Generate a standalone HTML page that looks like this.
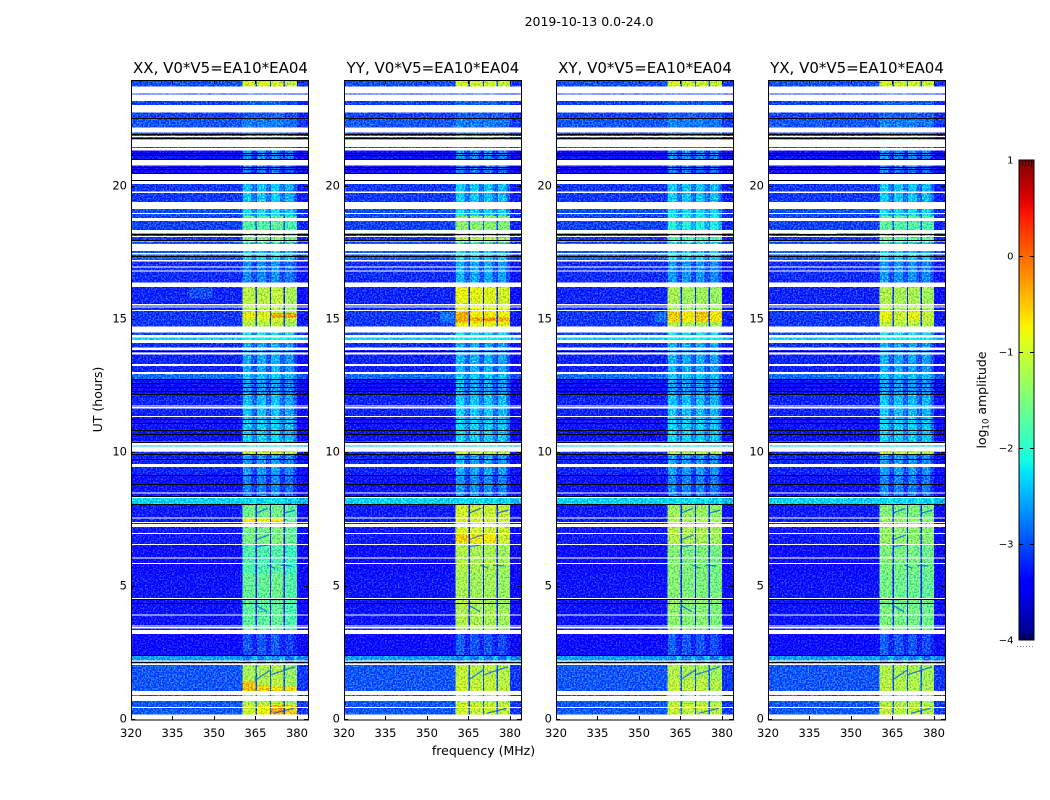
<!DOCTYPE html>
<html lang="en">
<head>
<meta charset="utf-8">
<title>2019-10-13 0.0-24.0</title>
<style>
html,body{margin:0;padding:0;background:#fff;}
body{width:1050px;height:800px;overflow:hidden;}
svg{display:block;font-family:"DejaVu Sans","Liberation Sans",sans-serif;fill:#000;}
</style>
</head>
<body>
<svg id="chart" xmlns="http://www.w3.org/2000/svg" width="1050" height="800" viewBox="0 0 1050 800">
  <defs>
    <filter id="speckle" filterUnits="userSpaceOnUse" x="0" y="0" width="1050" height="800" color-interpolation-filters="sRGB">
      <feTurbulence type="fractalNoise" baseFrequency="0.62" numOctaves="2" seed="7" result="n"/>
      <feColorMatrix in="n" type="matrix" values="0 2.6 0 0 -0.8  0 2.6 0 0 -0.8  0 0 0 0 0.5  0 0 0 0 1" result="m"/>
      <feComposite in="SourceGraphic" in2="m" operator="arithmetic" k1="0" k2="1" k3="0.5" k4="-0.25" result="c"/>
      <feComposite in="c" in2="SourceAlpha" operator="in"/>
    </filter>
    <linearGradient id="jet-gradient" x1="0" y1="1" x2="0" y2="0"></linearGradient>
  </defs>
  <text x="589" y="26" text-anchor="middle" font-size="12.5">2019-10-13 0.0-24.0</text>
  <text transform="translate(102 399.5) rotate(-90)" text-anchor="middle" font-size="12.5">UT (hours)</text>
  <text x="483.5" y="755" text-anchor="middle" font-size="12.5">frequency (MHz)</text>
  <g id="panels"></g>
  <g id="colorbar"></g>
  <text transform="translate(986 400) rotate(-90)" text-anchor="middle" font-size="12.5">log<tspan font-size="8.5" dy="2.5">10</tspan><tspan dy="-2.5"> amplitude</tspan></text>
</svg>
<script>
// Panel labels and axis ticks
const panelTitles = ["XX, V0*V5=EA10*EA04", "YY, V0*V5=EA10*EA04", "XY, V0*V5=EA10*EA04", "YX, V0*V5=EA10*EA04"];
const freqTicks = [320, 335, 350, 365, 380];
const utTicks = [0, 5, 10, 15, 20];
const colorbarTicks = [1, 0, -1, -2, -3, -4];

// Frequency ranges in MHz: the four bright sub-bands
const subbandStarts = [360.4, 365.5, 370.6, 375.6];
const subbandEnds = [365.0, 370.2, 375.1, 380.0];

// UT edges of the time bands (hours, descending)
const utBandEdges = [24, 23.75, 22.6, 21.4, 20.75, 20.1, 19.2, 18.9, 18.4, 17.9, 17.25, 16.4, 15.6, 15.34, 14.9, 14.75, 14.35, 14.25, 13.7, 13.0, 12.75, 12.2, 11.4, 10.45, 10.05, 9.95, 9.2, 8.37, 8.1, 7.6, 6.6, 5.5, 4.6, 3.23, 2.42, 2.07, 1.5, 1.09, 0.6, 0.2, 0];

// log10 amplitude per time band: outside the sub-bands
const backgroundLevels = [-3.0, -3.05, -2.95, -3.35, -3.4, -3.1, -3.0, -3.05, -3.1, -2.9, -3.15, -3.2, -3.2, -3.1, -3.1, -3.0, -2.35, -3.15, -3.2, -2.85, -3.35, -3.2, -3.3, -2.4, -3.15, -3.2, -3.3, -2.35, -3.25, -3.25, -3.35, -3.3, -3.3, -3.35, -2.6, -2.95, -2.95, -2.95, -2.95, -3.0];

// log10 amplitude per time band: inside the sub-bands, per polarisation
const xxLevels = [-1.0, -2.7, -2.5, -2.45, -2.55, -2.15, -2.0, -1.75, -1.45, -2.1, -2.45, -1.15, -1.2, -1.05, -1.2, -2.0, -1.9, -2.3, -2.3, -2.15, -2.35, -2.2, -2.1, -2.1, -1.05, -2.35, -2.5, -2.1, -1.6, -1.55, -1.8, -1.65, -1.7, -2.7, -2.55, -1.25, -1.2, -1.25, -1.05, -1.2];
const yyLevels = [-1.05, -2.7, -2.5, -2.45, -2.55, -2.15, -2.0, -1.45, -1.25, -2.1, -2.3, -0.95, -0.95, -0.75, -0.85, -2.0, -1.9, -2.3, -2.25, -2.1, -2.3, -2.15, -2.1, -2.1, -1.1, -2.3, -2.45, -2.1, -1.05, -1.0, -1.25, -1.3, -1.25, -2.7, -2.55, -1.15, -1.1, -1.2, -1.05, -1.2];
const xyLevels = [-1.05, -2.7, -2.5, -2.45, -2.55, -2.15, -2.0, -1.85, -1.8, -2.1, -2.4, -1.3, -1.3, -0.95, -1.25, -2.0, -1.9, -2.3, -2.3, -2.15, -2.35, -2.2, -2.1, -2.1, -1.2, -2.35, -2.5, -2.1, -1.35, -1.25, -1.5, -1.5, -1.45, -2.7, -2.55, -1.25, -1.15, -1.25, -1.1, -1.2];
const yxLevels = [-1.05, -2.7, -2.5, -2.45, -2.55, -2.15, -2.0, -1.75, -1.65, -2.1, -2.4, -1.25, -1.25, -1.05, -1.2, -2.0, -1.9, -2.3, -2.3, -2.15, -2.35, -2.2, -2.1, -2.1, -1.15, -2.35, -2.5, -2.1, -1.5, -1.4, -1.55, -1.6, -1.55, -2.7, -2.55, -1.25, -1.2, -1.25, -1.15, -1.2];

// Per-panel sub-band brightness offsets (log10)
const xxSubbandOffsets = [0, 0, 0.05, -0.1];
const yySubbandOffsets = [0.05, 0, 0, -0.05];
const xySubbandOffsets = [0.05, 0, 0, -0.05];
const yxSubbandOffsets = [0.05, 0, 0, -0.05];

// Localised bright features: panel, frequency range, UT range, log10 amplitude
const patchPanels = [0, 0, 0, 0, 0, 0, 0, 0, 0, 0, 0, 0, 0, 0, 0, 0, 0, 3, 3, 1, 1, 1, 1, 1, 1, 1, 1, 1, 1, 1, 2, 2, 2, 2, 2, 3, 3];
const patchFreqStarts = [341, 370.6, 375.6, 360.4, 365.5, 360.4, 365.5, 370.6, 375.6, 370.6, 365.5, 375.6, 360.4, 365.5, 370.6, 320, 340, 320, 331, 354.7, 360.4, 365.5, 370.6, 375.6, 360.4, 365.5, 370.6, 360.4, 365.5, 370.6, 356, 360.4, 370.6, 365.5, 375.6, 360.4, 370.6];
const patchFreqEnds = [349.5, 375.1, 380, 365, 370.2, 365, 370.2, 375.1, 380, 375.1, 370.2, 380, 365, 370.2, 375.1, 335, 355, 355, 345, 360, 365, 370.2, 375.1, 380, 365, 370.2, 375.1, 365, 370.2, 375.1, 360, 365, 375.1, 370.2, 380, 365, 375.1];
const patchUtTops = [16.2, 15.26, 15.26, 15.26, 15.26, 1.44, 1.3, 1.25, 1.25, 0.56, 0.56, 0.56, 7.6, 7.6, 7.6, 22.58, 22.58, 22.58, 18.26, 15.3, 15.3, 15.09, 15.09, 15.09, 6.95, 6.95, 6.95, 16.2, 16.2, 16.2, 15.3, 15.3, 15.3, 15.3, 15.3, 15.3, 15.3];
const patchUtBottoms = [15.8, 15.07, 15.07, 15.07, 15.07, 1.09, 1.09, 1.09, 1.09, 0.2, 0.2, 0.2, 7.43, 7.43, 7.43, 22.53, 22.53, 22.53, 18.2, 14.9, 14.9, 14.94, 14.94, 14.94, 6.65, 6.65, 6.65, 15.8, 15.8, 15.8, 14.9, 14.95, 14.95, 14.95, 14.95, 15.0, 15.0];
const patchLevels = [-3.0, -0.35, -0.35, -0.7, -0.9, -0.45, -0.55, -0.6, -0.6, -0.35, -0.8, -0.55, -0.75, -0.75, -0.75, -1.3, -1.2, -1.4, -1.3, -2.8, -0.35, -0.35, -0.25, -0.4, -0.55, -0.7, -0.7, -0.8, -0.85, -0.9, -2.85, -0.55, -0.5, -0.7, -0.7, -0.85, -0.85];

// Dark drifting streaks inside the bright sub-bands: frequency (MHz) and UT end points
const streakFreqStarts = [365, 375.2, 365, 365, 369.2, 374, 365, 365, 370.3, 371.6];
const streakUtStarts = [7.75, 7.75, 6.75, 6.5, 5.81, 5.8, 4.31, 1.5, 1.69, 0.25];
const streakFreqEnds = [369.5, 379.4, 369.8, 369.5, 372.2, 378, 369.2, 370.3, 379.3, 378.8];
const streakUtEnds = [7.94, 7.87, 6.94, 6.56, 5.69, 5.78, 4.06, 1.87, 2.0, 0.44];

// Flagged (white) UT ranges: start, end
const flagStarts = [23.75, 23.45, 23.06, 22.21, 21.90, 21.76, 21.71, 21.45, 21.00, 20.50, 19.82, 19.43, 19.02, 18.83, 18.38, 18.15, 18.00, 17.85, 17.52, 17.25, 17.00, 16.85, 16.40, 15.60, 15.50, 15.38, 14.75, 14.43, 14.25, 13.96, 13.79, 13.35, 13.05, 11.79, 11.74, 11.40, 10.38, 10.25, 9.60, 8.54, 8.37, 7.60, 7.43, 7.35, 7.01, 6.60, 6.10, 5.89, 4.58, 3.96, 3.55, 3.48, 3.38, 2.24, 2.11, 1.09, 0.90, 0.48, 0.20];
const flagEnds = [23.50, 23.21, 22.79, 22.04, 21.86, 21.71, 21.49, 21.36, 20.80, 20.10, 19.77, 19.16, 18.99, 18.71, 18.25, 18.11, 17.95, 17.58, 17.46, 17.20, 16.96, 16.81, 16.24, 15.55, 15.47, 15.34, 14.54, 14.35, 14.13, 13.88, 13.70, 13.28, 12.98, 11.76, 11.69, 11.36, 10.29, 10.06, 9.49, 8.50, 8.33, 7.56, 7.40, 7.23, 6.99, 6.57, 6.08, 5.86, 4.55, 3.94, 3.53, 3.44, 3.23, 2.20, 2.07, 0.93, 0.71, 0.45, 0];

// Black (no data) thin rows: UT hour
const blackRows = [22.59, 21.98, 21.83, 21.25, 21.18, 21.05, 20.75, 20.66, 20.53, 20.24, 18.21, 17.99, 17.41, 13.82, 12.78, 12.63, 12.48, 12.33, 12.21, 11.29, 11.15, 10.88, 10.71, 10.43, 9.98, 9.78, 9.18, 8.85, 8.41, 8.10, 4.54, 4.38, 2.42, 2.18];

const panelLevels = [xxLevels, yyLevels, xyLevels, yxLevels];
const panelOffsets = [xxSubbandOffsets, yySubbandOffsets, xySubbandOffsets, yxSubbandOffsets];

const NS = 'http://www.w3.org/2000/svg';
const panelLefts = [131, 344, 556, 768];
const panelWidth = 177, axTop = 80, axBottom = 720;
const freqMin = 320, freqMax = 384, utMin = 0, utMax = 24;
const vMin = -4, vMax = 1;

function xScale(left, f) { return left + (f - freqMin) / (freqMax - freqMin) * panelWidth; }
function yScale(u) { return axBottom - (u - utMin) / (utMax - utMin) * (axBottom - axTop); }

function jet(t) {
  t = Math.max(0, Math.min(1, t));
  const ramp = (pts) => {
    for (let i = 1; i < pts.length; i++) {
      if (t <= pts[i][0]) {
        const a = pts[i - 1], b = pts[i];
        return a[1] + (b[1] - a[1]) * (t - a[0]) / (b[0] - a[0]);
      }
    }
    return pts[pts.length - 1][1];
  };
  const r = ramp([[0, 0], [0.35, 0], [0.66, 1], [0.89, 1], [1, 0.5]]);
  const g = ramp([[0, 0], [0.125, 0], [0.375, 1], [0.64, 1], [0.91, 0], [1, 0]]);
  const b = ramp([[0, 0.5], [0.11, 1], [0.34, 1], [0.65, 0], [1, 0]]);
  return 'rgb(' + Math.round(r * 255) + ',' + Math.round(g * 255) + ',' + Math.round(b * 255) + ')';
}
function levelColor(v) { return jet((v - vMin) / (vMax - vMin)); }

function make(tag, parent, attrs) {
  const e = document.createElementNS(NS, tag);
  for (const k in attrs) e.setAttribute(k, attrs[k]);
  parent.appendChild(e);
  return e;
}

const panelsRoot = document.getElementById('panels');

panelTitles.forEach(function (title, p) {
  const L = panelLefts[p];
  const R = L + panelWidth;
  const g = make('g', panelsRoot, {});
  
  

  const heat = make('g', g, { filter: 'url(#speckle)', 'shape-rendering': 'crispEdges' });
  
  

  for (let b = 0; b < utBandEdges.length - 1; b++) {
    const y0 = yScale(utBandEdges[b]);
    const y1 = yScale(utBandEdges[b + 1]);
    const bg = backgroundLevels[b];
    const inband = panelLevels[p][b];
    const isDim = inband < -1.8;
    const bgCell = make('rect', heat, { x: L, y: y0, width: panelWidth, height: y1 - y0, fill: levelColor(bg) });
    
    
    const rightX = xScale(L, subbandEnds[3]);
    const rightCell = make('rect', heat, { x: rightX, y: y0, width: R - rightX, height: y1 - y0, fill: levelColor(bg - 0.15) });
    
    
    if (isDim) {
      const gx0 = xScale(L, subbandStarts[0]);
      const gx1 = xScale(L, subbandEnds[3]);
      const gapCell = make('rect', heat, { x: gx0, y: y0, width: gx1 - gx0, height: y1 - y0, fill: levelColor(Math.max(inband - 0.8, bg + 0.1)) });
      
      
    }
    for (let s = 0; s < subbandStarts.length; s++) {
      const x0 = xScale(L, subbandStarts[s]);
      const x1 = xScale(L, subbandEnds[s]);
      const level = inband + panelOffsets[p][s];
      const outerLevel = isDim ? Math.max(level - 0.65, bg + 0.15) : level;
      const cell = make('rect', heat, { x: x0, y: y0, width: x1 - x0, height: y1 - y0, fill: levelColor(outerLevel) });
      
      
      if (isDim) {
        const core = make('rect', heat, { x: x0 + 0.3, y: y0, width: (x1 - x0) * 0.68, height: y1 - y0, fill: levelColor(level - 0.25) });
        
        
      }
    }
  }

  patchPanels.forEach(function (pp, i) {
    if (pp !== p) return;
    const x0 = xScale(L, patchFreqStarts[i]);
    const x1 = xScale(L, patchFreqEnds[i]);
    const y0 = yScale(patchUtTops[i]);
    const y1 = yScale(patchUtBottoms[i]);
    const patch = make('rect', heat, { x: x0, y: y0, width: x1 - x0, height: Math.max(1, y1 - y0), fill: levelColor(patchLevels[i]) });
    
    
  });

  streakFreqStarts.forEach(function (f, i) {
    const streak = make('line', g, { x1: xScale(L, f), y1: yScale(streakUtStarts[i]), x2: xScale(L, streakFreqEnds[i]), y2: yScale(streakUtEnds[i]), stroke: levelColor(-3), 'stroke-width': 1.2, 'stroke-opacity': 0.75 });
    
    
  });

  const masks = make('g', g, { 'shape-rendering': 'crispEdges' });
  
  
  flagStarts.forEach(function (u, i) {
    const y0 = yScale(u);
    const y1 = yScale(flagEnds[i]);
    const flag = make('rect', masks, { x: L, y: y0, width: panelWidth, height: Math.max(1, y1 - y0), fill: '#fff' });
    
    
  });
  blackRows.forEach(function (u) {
    const row = make('rect', masks, { x: L, y: Math.round(yScale(u)), width: panelWidth, height: 1, fill: '#000' });
    
    
  });

  const frame = make('rect', g, { x: L + 0.5, y: axTop + 0.5, width: panelWidth, height: axBottom - axTop - 0.5, fill: 'none', stroke: '#000', 'stroke-width': 1 });
  
  

  freqTicks.forEach(function (f) {
    const x = Math.round(xScale(L, f)) + 0.5;
    const t1 = make('line', g, { x1: x, x2: x, y1: axBottom, y2: axBottom - 4, stroke: '#000', 'stroke-width': 1 });
    
    
    const t2 = make('line', g, { x1: x, x2: x, y1: axTop, y2: axTop + 4, stroke: '#000', 'stroke-width': 1 });
    
    
    const lab = make('text', g, { x: xScale(L, f), y: 737, 'text-anchor': 'middle', 'font-size': 11.5 });
    
    
    lab.textContent = f;
  });

  utTicks.forEach(function (u) {
    const y = Math.round(yScale(u)) - 0.5;
    const t1 = make('line', g, { x1: L, x2: L + 4, y1: y, y2: y, stroke: '#000', 'stroke-width': 1 });
    
    
    const t2 = make('line', g, { x1: R, x2: R - 4, y1: y, y2: y, stroke: '#000', 'stroke-width': 1 });
    
    
    const lab = make('text', g, { x: L - 4, y: y + 3, 'text-anchor': 'end', 'font-size': 11.5 });
    
    
    lab.textContent = u;
  });

  const ttl = make('text', g, { x: L + panelWidth / 2 + (p === 0 ? 1 : 0.5), y: 73, 'text-anchor': 'middle', 'font-size': 15 });
  
  
  ttl.textContent = title;
});

// Colorbar
const cbLeft = 1019, cbRight = 1034, cbTop = 160, cbBottom = 640;
function cbScale(v) { return cbBottom - (v - vMin) / (vMax - vMin) * (cbBottom - cbTop); }
const grad = document.getElementById('jet-gradient');
for (let i = 0; i <= 40; i++) {
  const st = make('stop', grad, { offset: (i / 40), 'stop-color': jet(i / 40) });
}
const cbRoot = document.getElementById('colorbar');
const cbFill = make('rect', cbRoot, { x: cbLeft, y: cbTop, width: cbRight - cbLeft, height: cbBottom - cbTop, fill: 'url(#jet-gradient)', stroke: '#000', 'stroke-width': 1 });


colorbarTicks.forEach(function (v) {
  const y = Math.round(cbScale(v)) + 0.5;
  if (v !== 1 && v !== -4) {
    const a = make('line', cbRoot, { x1: cbLeft, x2: cbLeft + 4, y1: y, y2: y, stroke: '#000' });
    
    
    const b = make('line', cbRoot, { x1: cbRight, x2: cbRight - 4, y1: y, y2: y, stroke: '#000' });
    
    
  }
  const lab = make('text', cbRoot, { x: 1013.5, y: cbScale(v) + 3.5, 'text-anchor': 'end', 'font-size': 10 });
  
  
  lab.textContent = v < 0 ? '\u2212' + Math.abs(v) : String(v);
});
[1022, 1025, 1028, 1031].forEach(function (x) {
  const top = make('line', cbRoot, { x1: x + 0.5, x2: x + 0.5, y1: cbTop, y2: cbTop + 6, stroke: '#000', 'stroke-opacity': 0.7 });
  
  
  const bot = make('line', cbRoot, { x1: x + 0.5, x2: x + 0.5, y1: cbBottom, y2: cbBottom - 6, stroke: '#000', 'stroke-opacity': 0.7 });
  
  
});
const dots = make('line', cbRoot, { x1: 1017, x2: 1035, y1: 646.5, y2: 646.5, stroke: '#888', 'stroke-width': 1, 'stroke-dasharray': '1 2' });


</script>
</body>
</html>
